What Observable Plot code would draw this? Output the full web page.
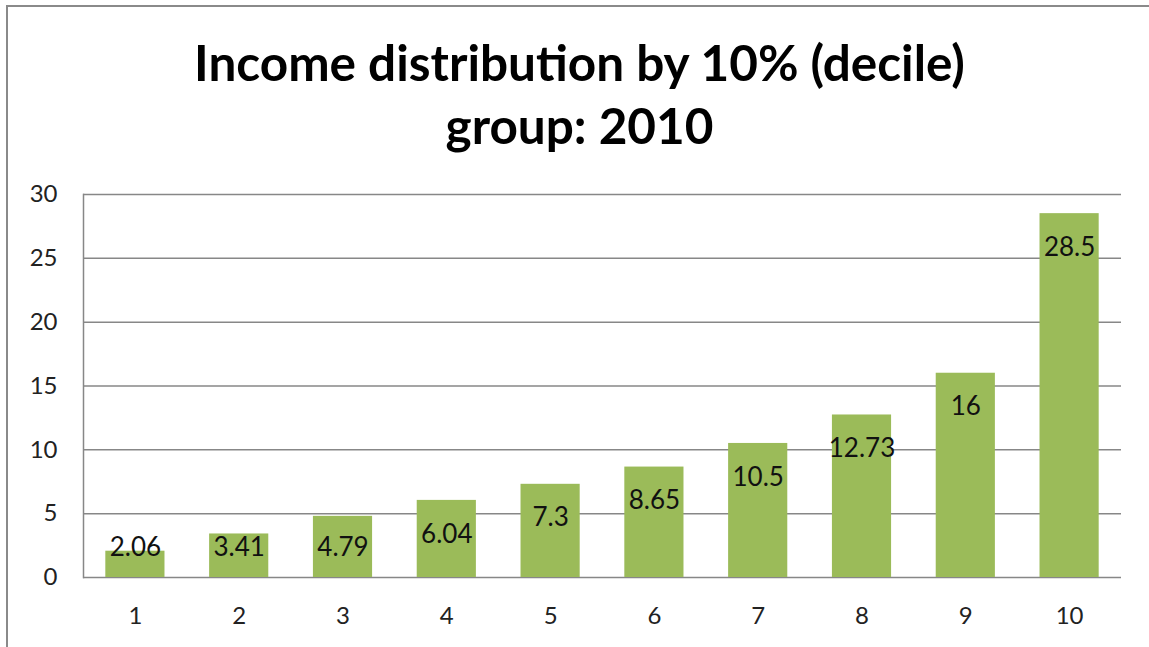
<!DOCTYPE html>
<html>
<head>
<meta charset="utf-8">
<script src="https://cdn.jsdelivr.net/npm/d3@7"></script>
<script src="https://cdn.jsdelivr.net/npm/@observablehq/plot@0.6"></script>
<style>
  html, body { margin: 0; padding: 0; background: #fff; overflow: hidden; }
  #wrap { position: relative; width: 1149px; height: 647px; overflow: hidden; }
  #frame { position: absolute; left: 6px; top: 5px; width: 1200px; height: 700px; border: 2px solid #8a8a8a; box-sizing: border-box; }
  #title { position: absolute; left: 5px; top: 31px; width: 1149px; text-align: center;
           font-family: Lato, "Open Sans", sans-serif; font-weight: bold; font-size: 49.5px; line-height: 63px; color: #000; }
  #chart { position: absolute; left: 0; top: 0; }
</style>
</head>
<body>
<div id="wrap">
  <div id="frame"></div>
  <div id="chart"></div>
  <div id="title">Income distribution by 10% (decile)<br>group: 2010</div>
</div>
<script>
const deciles = ["1", "2", "3", "4", "5", "6", "7", "8", "9", "10"];
const shares = [2.06, 3.41, 4.79, 6.04, 7.3, 8.65, 10.5, 12.73, 16, 28.5];
const labels = ["2.06", "3.41", "4.79", "6.04", "7.3", "8.65", "10.5", "12.73", "16", "28.5"];
const yTicks = [0, 5, 10, 15, 20, 25, 30];

const data = deciles.map((d, i) => ({decile: d, value: shares[i], label: labels[i]}));

const chart = Plot.plot({
  width: 1149,
  height: 647,
  marginTop: 194,
  marginBottom: 70,
  marginLeft: 83,
  marginRight: 28,
  style: {background: "transparent", fontFamily: "Lato, 'Open Sans', sans-serif", color: "#222"},
  x: {domain: deciles, paddingInner: 0.43, paddingOuter: 0.215, round: false, label: null},
  y: {domain: [0, 30], label: null},
  marks: [
    Plot.ruleY(yTicks, {stroke: "#878787", strokeWidth: 1.5}),
    Plot.frame({anchor: "left", stroke: "#878787", strokeWidth: 1.5}),
    Plot.barY(data, {x: "decile", y: "value", fill: "#9bbb59"}),
    Plot.text(data, {x: "decile", y: d => Math.max(d.value - 2.65, 2.35), text: "label",
      fontSize: 26, fill: "#111", textAnchor: "middle"}),
    Plot.axisY({ticks: yTicks, tickSize: 0, tickPadding: 26, fontSize: 24, label: null, fill: "#222"}),
    Plot.axisX({tickSize: 0, tickPadding: 29, fontSize: 24, label: null, fill: "#222"})
  ]
});
document.getElementById("chart").appendChild(chart);
</script>
</body>
</html>
